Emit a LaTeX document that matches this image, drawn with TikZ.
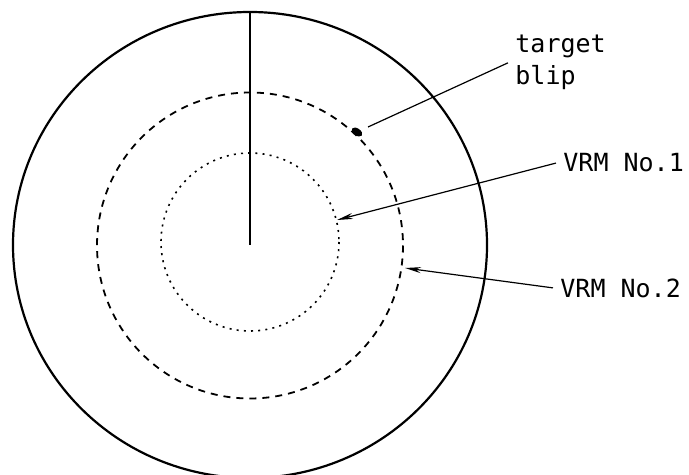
\documentclass[tikz,border=0pt]{standalone}
\usepackage{fontspec}
\setmonofont{DejaVu Sans Mono}
\usetikzlibrary{arrows.meta}

\begin{document}
\begin{tikzpicture}[
    x=0.5pt,y=-0.5pt,
    ring/.style={line width=1.1pt},
    vrmone/.style={line width=0.8pt,dash pattern=on 1pt off 2.6pt},
    vrmtwo/.style={line width=0.9pt,dash pattern=on 3.5pt off 3pt},
    leader/.style={line width=0.6pt},
    pointer/.style={leader,-{Stealth[length=8pt,width=3pt]}},
    lbl/.style={font=\fontsize{12.5}{16}\selectfont\ttfamily,
        inner xsep=3.5pt,inner ysep=0pt,anchor=base west,align=left}
]
\useasboundingbox (0,0) rectangle (689,475);
\coordinate (O) at (250,245);
\coordinate (north) at (250,12);
% scope rings
\draw[ring] (O) ellipse [x radius=237,y radius=233];
\draw[vrmtwo] (250,245.5) circle [radius=153];
\draw[vrmone] (250,242) circle [radius=89];
\draw[line width=1pt] (north) -- (O);
% the echo
\coordinate (blip) at (357,132);
\fill[rotate around={-35:(blip)}] (blip) ellipse [x radius=6,y radius=3.5];
\coordinate (blipend) at (368,127);
\coordinate (tipone) at (337,220);
\coordinate (tiptwo) at (405,268);
% labels (base of a two-line node is its last line)
\node[lbl] (tgt) at (508,85) {target\\blip};
\node[lbl] (vone) at (556,172) {VRM No.1};
\node[lbl] (vtwo) at (553,297) {VRM No.2};
\draw[leader] (blipend) -- (tgt.west);
\draw[pointer] (vone.west) -- (tipone);
\draw[pointer] (vtwo.west) -- (tiptwo);
\end{tikzpicture}
\end{document}
